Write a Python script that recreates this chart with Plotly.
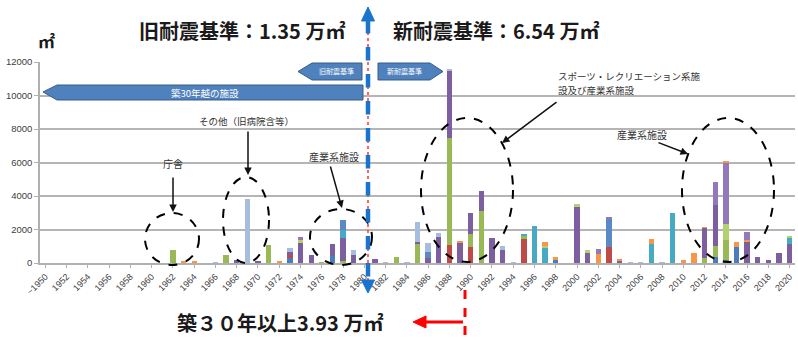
import plotly.graph_objects as go

# ---------------- data ----------------
years = ["~1950"] + [str(y) for y in range(1951, 2021)]

blue_vals = {1973: 350, 1977: 400, 1998: 200, 2004: 40, 2013: 350, 2014: 150, 2015: 950}
red_vals = {1973: 100, 1988: 1100, 1990: 930, 1995: 1450, 2003: 960}
green_vals = {1962: 750, 1967: 500, 1971: 1080, 1976: 60, 1978: 100, 1983: 330, 1985: 1150,
              1988: 6350, 1990: 820, 1991: 3080, 1995: 150, 2012: 300, 2013: 680, 2014: 1200}
purple_vals = {1968: 150, 1970: 100, 1973: 200, 1974: 1200, 1975: 450, 1977: 750, 1978: 1400,
               1979: 500, 1981: 250, 1985: 120, 1986: 320, 1987: 1560, 1988: 4000, 1989: 1250,
               1990: 1250, 1991: 1200, 1992: 1520, 1993: 760, 2000: 3350, 2001: 580, 2004: 80,
               2012: 1800, 2013: 2450, 2016: 1250, 2017: 380, 2018: 180, 2019: 620, 2020: 1120}
teal_vals = {1978: 500, 1995: 120, 1996: 2180, 1997: 880, 2007: 1150, 2009: 2960, 2020: 360}
blue2_vals = {1978: 550, 1986: 340, 2003: 1650}
lightgreen_vals = {1974: 200, 1997: 150, 2000: 180, 2001: 170, 2014: 1000, 2020: 140}
orange_vals = {1963: 80, 1964: 80, 1972: 80, 1989: 50, 1997: 220, 1998: 180, 2002: 540, 2004: 60,
               2007: 270, 2010: 150, 2011: 580, 2012: 40, 2015: 330, 2016: 150}
lightblue_vals = {1966: 60, 1969: 3850, 1973: 250, 1979: 250, 1982: 60, 1984: 50, 1985: 1150,
                  1986: 520, 1987: 260, 1988: 150, 1993: 260, 1994: 60, 2005: 40, 2006: 40, 2008: 50}
violet_vals = {1974: 150, 2002: 280, 2003: 120, 2013: 1380, 2014: 3650, 2016: 480}
orange2_vals = {2014: 100}

series = [
    ("系列1", blue_vals, "#4A7EBB"),
    ("系列2", red_vals, "#BE4B48"),
    ("系列3", green_vals, "#98B954"),
    ("系列4", purple_vals, "#7D5FA0"),
    ("系列5", teal_vals, "#46AAC5"),
    ("系列6", blue2_vals, "#5A8AC6"),
    ("系列7", lightgreen_vals, "#B3D16E"),
    ("系列8", orange_vals, "#F79646"),
    ("系列9", lightblue_vals, "#A7BDE0"),
    ("系列10", violet_vals, "#9478BC"),
    ("系列11", orange2_vals, "#F79646"),
]

y_ticks = [0, 2000, 4000, 6000, 8000, 10000, 12000]

# ---------------- figure ----------------
fig = go.Figure()
for name, vals, col in series:
    yv = [vals.get(1950 + i, 0) for i in range(len(years))]
    fig.add_trace(go.Bar(x=years, y=yv, name=name, marker=dict(color=col, line=dict(width=0))))

L, R, T, B = 40, 795, 62, 263
def X(px):
    return (px - L) / (R - L)
def Y(py):
    return (B - py) / (B - T)

shapes = []
annotations = []

def poly(pts, fill, line, width=1, layer="above"):
    d = "M " + " L ".join(f"{X(a):.5f},{Y(b):.5f}" for a, b in pts) + " Z"
    shapes.append(dict(type="path", path=d, xref="paper", yref="paper",
                       fillcolor=fill, line=dict(color=line, width=width), layer=layer))

def seg(x0, y0, x1, y1, color, width, dash="solid"):
    shapes.append(dict(type="line", xref="paper", yref="paper", x0=X(x0), y0=Y(y0), x1=X(x1), y1=Y(y1),
                       line=dict(color=color, width=width, dash=dash), layer="above"))

def ellipse(cx, cy, rx, ry):
    shapes.append(dict(type="circle", xref="paper", yref="paper", x0=X(cx - rx), x1=X(cx + rx),
                       y0=Y(cy + ry), y1=Y(cy - ry), line=dict(color="black", width=2, dash="dash"),
                       layer="above"))

def text(px, py, s, size, color="#333333", bold=False, xanchor="center", family="Noto Sans CJK JP",
         align="center"):
    annotations.append(dict(x=X(px), y=Y(py), xref="paper", yref="paper", text=s, showarrow=False,
                            xanchor=xanchor, yanchor="middle", align=align, borderpad=0,
                            font=dict(size=size, color=color, family=family,
                                      weight="bold" if bold else "normal")))

def arrow(x0, y0, x1, y1):
    annotations.append(dict(x=X(x1), y=Y(y1), xref="paper", yref="paper", ax=x0 - x1, ay=y0 - y1,
                            axref="pixel", ayref="pixel", text="", showarrow=True,
                            arrowhead=2, arrowsize=1, arrowwidth=1.5, arrowcolor="#111111"))

# banners
poly([(43, 92), (57, 85), (363, 85), (363, 100), (57, 100)], "#4F81BD", "#385D8A")
text(205, 92.5, "築30年越の施設", 9.5, color="white")
poly([(298, 71.5), (312, 63), (362, 63), (362, 80), (312, 80)], "#4F81BD", "#385D8A")
text(336, 71.5, "旧耐震基準", 7, color="white")
poly([(378, 63), (430, 63), (443, 71.5), (430, 80), (378, 80)], "#4F81BD", "#385D8A")
text(404, 71.5, "新耐震基準", 7, color="white")

# dashed ellipses
ellipse(172, 239, 27, 26)
ellipse(246, 220, 23, 43)
ellipse(341, 237, 31, 28)
ellipse(467, 190, 46, 72)
ellipse(728, 190, 46, 72)

# labels + arrows
text(173, 163, "庁舎", 10)
arrow(173, 176, 173, 212)
text(246, 121, "その他（旧病院含等）", 9.5)
arrow(248, 130, 248, 175)
text(334, 156, "産業系施設", 10)
arrow(330, 165, 342, 208)
text(557, 75.5, "スポーツ・レクリエーション系施", 9.5, xanchor="left", align="left")
text(557, 89.5, "設及び産業系施設", 9.5, xanchor="left", align="left")
arrow(558, 101, 502, 143)
text(642, 134, "産業系施設", 10)
arrow(657, 142, 688, 154)

# blue dashed double arrow (1980 boundary)
seg(368, 20, 368, 282, "#FF3333", 1.5, "dot")
seg(368, 20, 368, 282, "#1874CD", 4.5, "dash")
poly([(368, 7), (361.5, 21), (374.5, 21)], "#1874CD", "#1874CD")
poly([(368, 293), (361.5, 280), (374.5, 280)], "#1874CD", "#1874CD")

# red dashed line and arrow at bottom
seg(465, 290, 465, 343, "#FF0000", 3, "dash")
seg(463, 322, 424, 322, "#FF0000", 3)
poly([(413, 322), (426, 316), (426, 328)], "#FF0000", "#FF0000")

# big titles
text(242, 31, "旧耐震基準：1.35 万㎡", 20, color="#1a1a1a", bold=True)
text(496, 31, "新耐震基準：6.54 万㎡", 20, color="#1a1a1a", bold=True)
text(280, 322, "築３０年以上3.93 万㎡", 20, color="#1a1a1a", bold=True)
text(46, 40, "㎡", 17, color="#1a1a1a", bold=True)

fig.update_layout(
    barmode="stack",
    bargap=0.5,
    width=798, height=343,
    margin=dict(l=L, r=798 - R, t=T, b=343 - B, pad=0),
    paper_bgcolor="white", plot_bgcolor="white",
    showlegend=False,
    shapes=shapes,
    annotations=annotations,
    font=dict(family="Liberation Sans", color="#404040"),
    xaxis=dict(type="category", categoryorder="array", categoryarray=years,
               tickmode="array", tickvals=years[::2], ticktext=years[::2],
               tickangle=-45, tickfont=dict(size=9, color="#404040"),
               showline=True, linecolor="#B0B0B0", linewidth=2,
               ticks="outside", ticklen=3, tickcolor="#B0B0B0", showgrid=False),
    yaxis=dict(range=[0, 12000], tickvals=y_ticks, ticktext=[str(v) for v in y_ticks],
               tickfont=dict(size=9.5, color="#404040"),
               showgrid=True, gridcolor="#B5B5B5", gridwidth=1.5,
               showline=True, linecolor="#B0B0B0", linewidth=1.5,
               ticks="outside", ticklen=4, tickcolor="#B0B0B0", zeroline=False),
)

fig.write_html("out.html")
